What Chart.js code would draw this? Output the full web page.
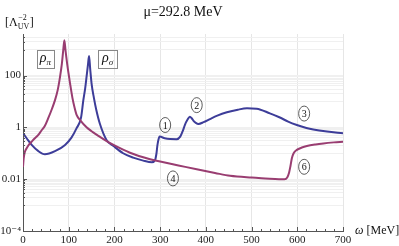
<!DOCTYPE html>
<html>
<head>
<meta charset="utf-8">
<script src="https://cdn.jsdelivr.net/npm/chart.js@4.4.1/dist/chart.umd.min.js"></script>
<style>
  html, body { margin: 0; padding: 0; background: #fff; }
</style>
</head>
<body>
<canvas id="chart" width="399" height="246"></canvas>
<script>
// spectral functions at mu = 292.8 MeV

// ─── Data ─────────────────────────────────────────────────────────────────────
const omegaPi = [0, 1.5, 4, 8, 13, 19, 26, 33, 40, 48, 55, 63, 70, 76, 81, 85, 88, 90.5,
  93, 97, 103, 108, 113, 117.5, 125, 139, 150, 165, 183, 198, 234, 278, 300, 340, 380,
  420, 453, 500, 530, 560, 572, 578, 582, 585, 588, 592, 599, 610, 621, 640, 657, 680, 700];
const rhoPi = [0.030, 0.063, 0.112, 0.155, 0.214, 0.28, 0.38, 0.50, 0.74, 1.15, 2.2, 5.0,
  11.2, 28, 89, 282, 933, 2290, 933, 251, 49, 14.1, 5.6, 2.95, 1.9, 1.0, 0.71, 0.47,
  0.295, 0.209, 0.105, 0.059, 0.048, 0.034, 0.024, 0.0174, 0.0135, 0.0115, 0.0107,
  0.0100, 0.0100, 0.0117, 0.0178, 0.0316, 0.063, 0.100, 0.135, 0.166, 0.19, 0.219,
  0.24, 0.263, 0.28];

const omegaSigma = [0, 8, 19, 33, 48, 70, 92, 106, 117, 127, 132, 136, 139, 142, 144.5,
  147, 150, 155, 160, 168, 183, 198, 219, 241, 263, 282, 289, 292, 294, 296, 299, 310,
  322, 336, 344, 350, 354, 360, 365, 369, 373, 378, 384, 395, 409, 425, 446, 470, 490,
  511, 540, 562, 580, 599, 620, 635, 665, 700];
const rhoSigma = [0.59, 0.38, 0.21, 0.123, 0.091, 0.12, 0.21, 0.40, 0.91, 2.4, 11.2, 32,
  89, 251, 562, 178, 49, 14, 5.0, 1.41, 0.32, 0.19, 0.10, 0.068, 0.052, 0.045, 0.055,
  0.10, 0.20, 0.32, 0.44, 0.38, 0.355, 0.35, 0.44, 0.76, 1.23, 2.0, 2.57, 2.24, 1.78,
  1.48, 1.35, 1.58, 2.09, 2.82, 3.8, 4.8, 5.4, 5.25, 3.47, 2.4, 1.66, 1.23, 0.95, 0.83,
  0.69, 0.59];

// tick positions
const xTicks = [0, 100, 200, 300, 400, 500, 600, 700];
const yMajor = [1e-4, 1e-2, 1, 100];
const yMajorLabels = ["10⁻⁴", "0.01", "1", "100"];
const yGrid = [0.001, 0.002, 0.003, 0.004, 0.005, 0.006, 0.007, 0.008, 0.009, 0.01,
  0.1, 0.2, 0.3, 0.4, 0.5, 0.6, 0.7, 0.8, 0.9, 1,
  10, 20, 30, 40, 50, 60, 70, 80, 90, 100,
  1000, 2000, 3000];

const BLUE = "#3d3d99";
const MAGENTA = "#993d71";
const SERIF = "'Liberation Serif', 'DejaVu Serif', serif";

// ─── Annotation plugin ────────────────────────────────────────────────────────
const annotate = {
  id: "annotate",
  afterDraw(chart) {
    const { ctx, scales: { x, y } } = chart;
    const bottom = y.getPixelForValue(1e-4);
    const left = x.getPixelForValue(0);
    ctx.save();

    // inward tick marks
    ctx.strokeStyle = "#555";
    ctx.lineWidth = 1;
    ctx.beginPath();
    for (let w = 0; w <= 700; w += 20) {
      const px = Math.round(x.getPixelForValue(w)) + 0.5;
      const len = w % 100 === 0 ? 4 : 2;
      ctx.moveTo(px, bottom);
      ctx.lineTo(px, bottom - len);
    }
    yGrid.concat([1e-4]).forEach(v => {
      const py = Math.round(y.getPixelForValue(v)) + 0.5;
      const len = yMajor.includes(v) ? 4 : 2;
      ctx.moveTo(left, py);
      ctx.lineTo(left + len, py);
    });
    ctx.stroke();

    ctx.fillStyle = "#111";
    ctx.textBaseline = "alphabetic";

    // title
    ctx.font = `14px ${SERIF}`;
    ctx.textAlign = "center";
    ctx.fillText("μ=292.8 MeV", 183, 16);

    // y unit  [Λ_UV^-2]
    ctx.textAlign = "left";
    ctx.font = `12px ${SERIF}`;
    ctx.fillText("[Λ", 5, 26);
    let ux = 5 + ctx.measureText("[Λ").width;
    ctx.font = `8px ${SERIF}`;
    ctx.fillText("−2", ux + 0.5, 20);
    ctx.fillText("UV", ux, 29);
    ux += Math.max(ctx.measureText("UV").width, ctx.measureText("−2").width) + 0.5;
    ctx.font = `12px ${SERIF}`;
    ctx.fillText("]", ux, 26);

    // x label
    ctx.font = `italic 12px ${SERIF}`;
    ctx.fillText("ω", 355, 234);
    const wx = 355 + ctx.measureText("ω").width;
    ctx.font = `12px ${SERIF}`;
    ctx.fillText(" [MeV]", wx, 234);

    // boxed rho labels
    const boxLabel = (w, v, sub, bw) => {
      const cx = x.getPixelForValue(w), cy = y.getPixelForValue(v);
      ctx.strokeStyle = "#888";
      ctx.lineWidth = 1;
      ctx.strokeRect(Math.round(cx - bw / 2) + 0.5, Math.round(cy - 9) + 0.5, bw, 18);
      ctx.font = `italic 14px ${SERIF}`;
      const rw = ctx.measureText("ρ").width;
      ctx.font = `italic 9px ${SERIF}`;
      const sw = ctx.measureText(sub).width;
      const sx = cx - (rw + sw) / 2;
      ctx.font = `italic 14px ${SERIF}`;
      ctx.fillText("ρ", sx, cy + 3);
      ctx.font = `italic 9px ${SERIF}`;
      ctx.fillText(sub, sx + rw, cy + 6);
    };
    boxLabel(49, 420, "π", 17);
    boxLabel(185, 420, "σ", 19);

    // circled branch numbers
    const circled = (w, v, txt) => {
      const cx = x.getPixelForValue(w), cy = y.getPixelForValue(v);
      ctx.strokeStyle = "#333";
      ctx.lineWidth = 0.8;
      ctx.beginPath();
      ctx.ellipse(cx, cy, 5.5, 7.5, 0, 0, Math.PI * 2);
      ctx.stroke();
      ctx.font = `10px ${SERIF}`;
      ctx.textAlign = "center";
      ctx.fillText(txt, cx, cy + 3.5);
      ctx.textAlign = "left";
    };
    circled(311, 1.23, "1");
    circled(380, 7.2, "2");
    circled(615, 3.4, "3");
    circled(328, 0.0107, "4");
    circled(615, 0.030, "6");

    ctx.restore();
  }
};

// ─── Chart ────────────────────────────────────────────────────────────────────
new Chart(document.getElementById("chart"), {
  type: "line",
  data: {
    datasets: [
      {
        label: "rho_pi",
        data: omegaPi.map((w, i) => ({ x: w, y: rhoPi[i] })),
        borderColor: MAGENTA,
        borderWidth: 2,
        pointRadius: 0,
        cubicInterpolationMode: "monotone",
        fill: false,
      },
      {
        label: "rho_sigma",
        data: omegaSigma.map((w, i) => ({ x: w, y: rhoSigma[i] })),
        borderColor: BLUE,
        borderWidth: 2,
        pointRadius: 0,
        cubicInterpolationMode: "monotone",
        fill: false,
      },
    ]
  },
  options: {
    responsive: false,
    animation: false,
    layout: { padding: { left: 0, top: 34, right: 56, bottom: 0 } },
    plugins: { legend: { display: false }, tooltip: { enabled: false } },
    scales: {
      x: {
        type: "linear",
        min: 0, max: 700,
        afterBuildTicks: s => { s.ticks = xTicks.map(v => ({ value: v })); },
        afterFit: s => { s.height = 15; },
        ticks: { font: { family: SERIF, size: 11 }, color: "#222", padding: 3, maxRotation: 0 },
        grid: { color: "#e6e6e6", drawTicks: false },
        border: { color: "#555", width: 1 },
      },
      y: {
        type: "logarithmic",
        min: 1e-4, max: 4000,
        afterBuildTicks: s => { s.ticks = yGrid.concat([1e-4]).map(v => ({ value: v })); },
        afterFit: s => { s.width = 23; },
        ticks: {
          autoSkip: false,
          font: { family: SERIF, size: 11 },
          color: "#222",
          padding: 2,
          callback: v => {
            const i = yMajor.findIndex(m => Math.abs(Math.log10(m) - Math.log10(v)) < 1e-9);
            return i >= 0 ? yMajorLabels[i] : "";
          }
        },
        grid: { color: "#f0f0f0", drawTicks: false },
        border: { color: "#555", width: 1 },
      }
    }
  },
  plugins: [annotate]
});
</script>
</body>
</html>
